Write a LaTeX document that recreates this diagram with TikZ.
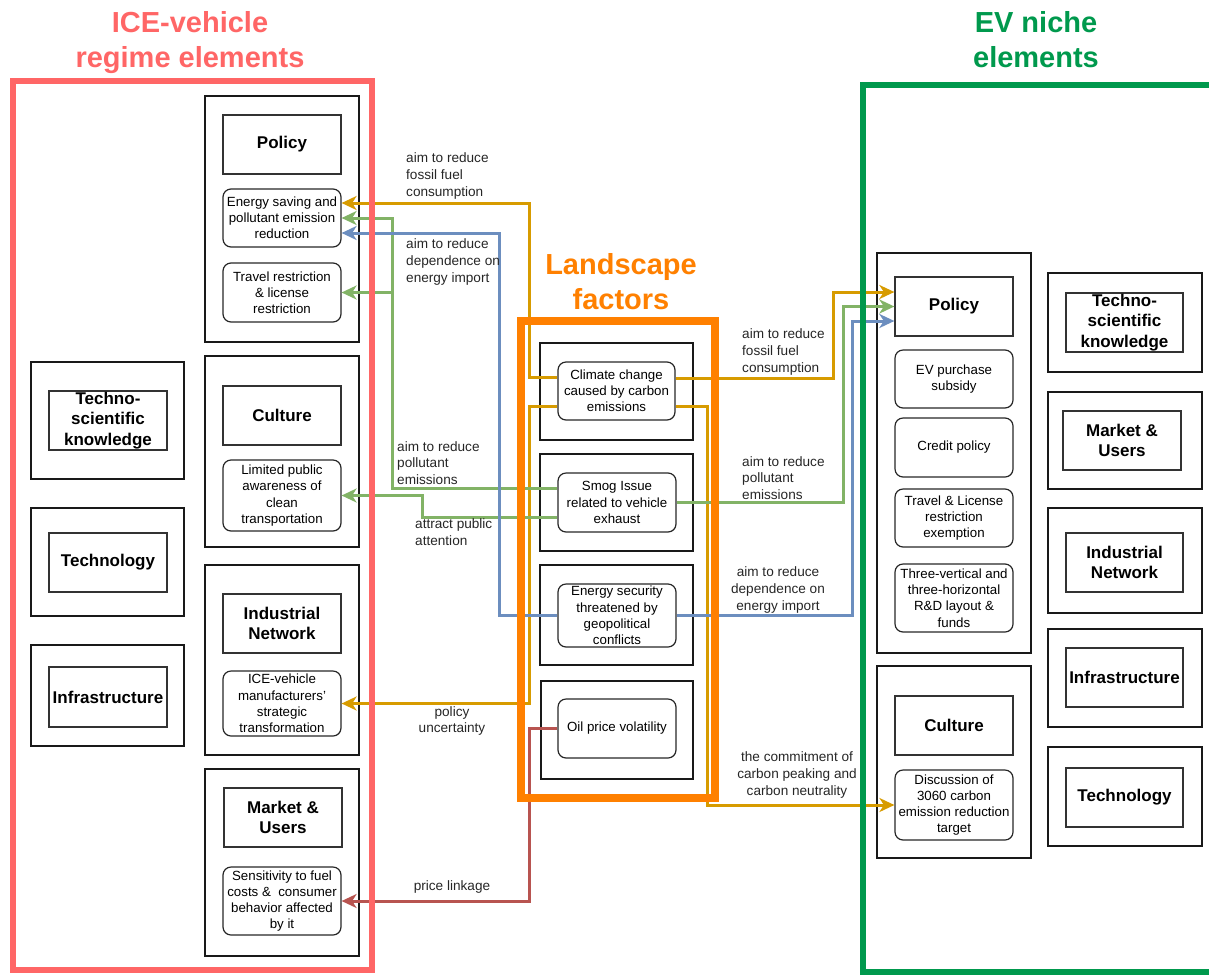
\documentclass[tikz,border=0pt]{standalone}
\usepackage{fontspec}
\setmainfont{Liberation Sans}
\usetikzlibrary{arrows.meta}

\definecolor{icered}{HTML}{FF6666}
\definecolor{evgreen}{HTML}{00994D}
\definecolor{lsorange}{HTML}{FF8000}
\definecolor{cOr}{HTML}{D79B00}
\definecolor{cGr}{HTML}{82B366}
\definecolor{cBl}{HTML}{6C8EBF}
\definecolor{cRd}{HTML}{B85450}

% box from its corner coordinates: style, name, x1, y1, x2, y2, text
\newcommand\boxnode[7]{\node[#1,minimum width={#5-#3},minimum height={#6-#4}] (#2) at ({(#3+#5)/2},{(#4+#6)/2}) {#7};}

\tikzset{
  grp/.style={draw=black!90,line width=2.3pt,inner sep=0pt},
  ttl/.style={draw=black!80,line width=1.3pt,inner sep=2pt,align=center,
    font=\bfseries\fontsize{17}{20.5}\selectfont},
  ttltext/.style={inner sep=0pt,align=center,font=\bfseries\fontsize{17}{20.5}\selectfont},
  itm/.style={draw=black!85,line width=1.2pt,rounded corners=8pt,inner xsep=1.5pt,
    inner ysep=0pt,align=center,font=\fontsize{13.3}{16.2}\selectfont},
  lbl/.style={font=\fontsize{13.6}{16.8}\selectfont,text=black!85,inner sep=0pt},
  conn/.style={line width=3pt,-{Stealth[length=15pt,width=14pt,inset=4.5pt]}},
  bigt/.style={inner sep=0pt,align=center,font=\bfseries\fontsize{29}{35}\selectfont},
}

\begin{document}
\begin{tikzpicture}[x=1pt,y=-1pt]
\useasboundingbox (0,0) rectangle (1209,975);

% ---------- ICE-vehicle regime ----------
\boxnode{grp}{gpol}{205}{96}{359}{342}{}
\boxnode{ttl}{tpol}{223}{115}{341}{174}{Policy}
\boxnode{itm}{esav}{223}{189}{341}{247}{Energy saving and\\pollutant emission\\reduction}
\boxnode{itm}{trav}{223}{263}{341}{322}{Travel restriction\\\& license\\restriction}
\boxnode{grp}{gcul}{205}{356}{359}{547}{}
\boxnode{ttl}{tcul}{223}{386}{341}{445}{Culture}
\boxnode{itm}{lim}{223}{460}{341}{531}{Limited public\\awareness of\\clean\\transportation}
\boxnode{grp}{gind}{205}{565}{359}{755}{}
\boxnode{ttl}{tind}{223}{594}{341}{653}{Industrial\\Network}
\boxnode{itm}{icem}{223}{671}{341}{736}{ICE-vehicle\\manufacturers'\\strategic\\transformation}
\boxnode{grp}{gmkt}{205}{769}{359}{956}{}
\boxnode{ttl}{tmkt}{224}{788}{342}{847}{Market \&\\Users}
\boxnode{itm}{sens}{223}{867}{341}{935}{Sensitivity to fuel\\costs \&\ \ consumer\\behavior affected\\by it}

\boxnode{grp}{gtsk}{31}{362}{184}{479}{}
\boxnode{ttl}{ttsk}{49}{391}{167}{450}{}
\node[ttltext] (ttskl) at (ttsk.center) {Techno-\\scientific\\knowledge};
\boxnode{grp}{gtec}{31}{508}{184}{616}{}
\boxnode{ttl}{ttec}{49}{533}{167}{592}{Technology}
\boxnode{grp}{ginf}{31}{645}{184}{746}{}
\boxnode{ttl}{tinf}{49}{667}{167}{727}{Infrastructure}

% ---------- Landscape factors ----------
\boxnode{grp}{gcli}{540}{343}{693}{440}{}
\boxnode{itm}{clim}{558}{362}{675}{420}{Climate change\\caused by carbon\\emissions}
\boxnode{grp}{gsmo}{540}{454}{693}{551}{}
\boxnode{itm}{smog}{558}{473}{676}{532}{Smog Issue\\related to vehicle\\exhaust}
\boxnode{grp}{gesc}{540}{565}{693}{665}{}
\boxnode{itm}{esec}{558}{584}{676}{647}{Energy security\\threatened by\\geopolitical\\conflicts}
\boxnode{grp}{goil}{541}{681}{693}{779}{}
\boxnode{itm}{oil}{558}{699}{676}{758}{Oil price volatility}

% ---------- EV niche ----------
\boxnode{grp}{gevp}{877}{253}{1031}{653}{}
\boxnode{ttl}{evpol}{895}{277}{1013}{336}{Policy}
\boxnode{itm}{sub}{895}{350}{1013}{408}{EV purchase\\subsidy}
\boxnode{itm}{cred}{895}{418}{1013}{477}{Credit policy}
\boxnode{itm}{tlex}{895}{489}{1013}{547}{Travel \& License\\restriction\\exemption}
\boxnode{itm}{rnd}{895}{564}{1013}{632}{Three-vertical and\\three-horizontal\\R\&D layout \&\\funds}
\boxnode{grp}{gevc}{877}{666}{1031}{858}{}
\boxnode{ttl}{evcul}{895}{696}{1013}{755}{Culture}
\boxnode{itm}{disc}{895}{770}{1013}{840}{Discussion of\\3060 carbon\\emission reduction\\target}

\boxnode{grp}{g2tsk}{1048}{273}{1202}{372}{}
\boxnode{ttl}{t2tsk}{1066}{293}{1183}{352}{}
\node[ttltext] (t2tskl) at (t2tsk.center) {Techno-\\scientific\\knowledge};
\boxnode{grp}{g2mkt}{1048}{392}{1202}{489}{}
\boxnode{ttl}{t2mkt}{1063}{411}{1181}{470}{Market \&\\Users}
\boxnode{grp}{g2ind}{1048}{508}{1202}{613}{}
\boxnode{ttl}{t2ind}{1066}{533}{1183}{592}{Industrial\\Network}
\boxnode{grp}{g2inf}{1048}{629}{1202}{727}{}
\boxnode{ttl}{t2inf}{1066}{648}{1183}{707}{Infrastructure}
\boxnode{grp}{g2tec}{1048}{747}{1202}{846}{}
\boxnode{ttl}{t2tec}{1066}{768}{1183}{827}{Technology}

% ---------- connectors ----------
\draw[conn,cOr] ([yshift=14pt]clim.west) -- ++(-28,0) |- ([yshift=15pt]esav.east);
\draw[conn,cOr] ([yshift=-15pt]clim.west) -- ++(-28,0) |- (icem.east);
\draw[conn,cOr] ([yshift=13pt]clim.east) -- ++(158,0) |- ([yshift=14.5pt]evpol.west);
\draw[conn,cOr] ([yshift=-15pt]clim.east) -- ++(32,0) |- (disc.west);

\draw[conn,cGr] ([yshift=14.5pt]smog.west) -- ++(-165,0) coordinate (gbr) |- (esav.east);
\draw[conn,cGr] (gbr) |- (trav.east);
\draw[conn,cGr] ([yshift=-14.5pt]smog.west) -- ++(-135,0) |- (lim.east);
\draw[conn,cGr] (smog.east) -- ++(167,0) |- (evpol.west);

\draw[conn,cBl] (esec.west) -- ++(-58,0) |- ([yshift=-15pt]esav.east);
\draw[conn,cBl] (esec.east) -- ++(176,0) |- ([yshift=-14.5pt]evpol.west);

\draw[conn,cRd] (oil.west) -- ++(-28,0) |- (sens.east);

% ---------- connector labels ----------
\node[lbl,anchor=west,align=left] (l1) at (406,176) {aim to reduce\\fossil fuel\\consumption};
\node[lbl,anchor=west,align=left] (l2) at (406,262) {aim to reduce\\dependence on\\energy import};
\node[lbl,anchor=west,align=left] (l3) at (397,463) {aim to reduce\\pollutant\\emissions};
\node[lbl,anchor=west,align=left] (l4) at (415,532) {attract public\\attention};
\node[lbl,align=center] (l5) at (452,721) {policy\\uncertainty};
\node[lbl,align=center] (l6) at (452,887) {price linkage};
\node[lbl,anchor=west,align=left] (l7) at (742,352) {aim to reduce\\fossil fuel\\consumption};
\node[lbl,anchor=west,align=left] (l8) at (742,478) {aim to reduce\\pollutant\\emissions};
\node[lbl,align=center] (l9) at (778,590) {aim to reduce\\dependence on\\energy import};
\node[lbl,align=center] (l10) at (797,775) {the commitment of\\carbon peaking and\\carbon neutrality};

% ---------- outer frames and titles ----------
\draw[icered,line width=6pt] (13,81) rectangle (372,970);
\draw[evgreen,line width=6pt] (863,85) rectangle (1222,972);
\draw[lsorange,line width=8pt] (521,321) rectangle (715,798);

\node[bigt,text=icered] (tice) at (190,43) {ICE-vehicle\\regime elements};
\node[bigt,text=evgreen] (tev) at (1036,40) {EV niche\\elements};
\node[bigt,text=lsorange] (tls) at (621,282) {Landscape\\factors};
\end{tikzpicture}
\end{document}
